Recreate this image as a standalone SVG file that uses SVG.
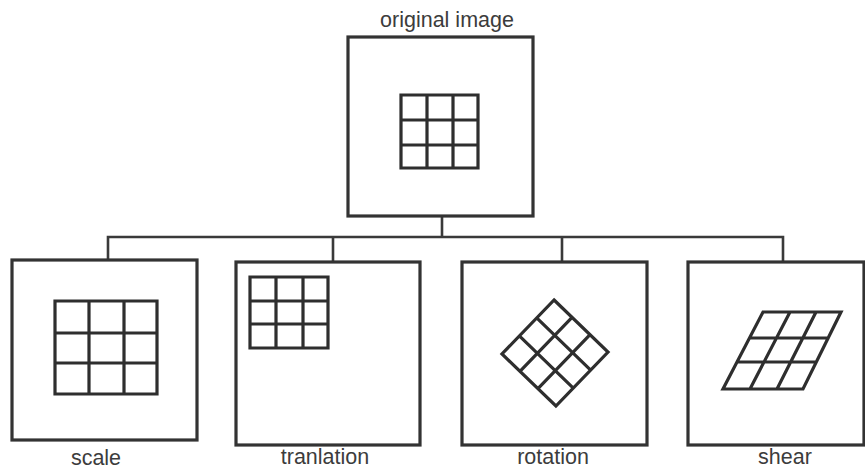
<svg xmlns="http://www.w3.org/2000/svg" width="865" height="471" viewBox="0 0 865 471">
<style>
.box{fill:#fff;stroke:#333;stroke-width:3.2}
.grid{fill:none;stroke:#2e2e2e;stroke-width:3.2;stroke-linejoin:miter}
.conn{fill:none;stroke:#3a3a3a;stroke-width:2.6}
.lbl{font-family:"Liberation Sans",Arial,sans-serif;font-size:21.5px;fill:#3c3c3c;text-anchor:middle}
</style>
<rect width="865" height="471" fill="#fff"/>
<g id="connectors">
<path class="conn" d="M442 216V237M108 260V237H783V262M333 237V262M562 237V262"/>
</g>
<g id="original">
<text class="lbl" x="447" y="27">original image</text>
<rect class="box" x="348" y="37" width="185" height="179"/>
<path class="grid" d="M401 95H478V168H401ZM401 120H478M401 145H478M427 95V168M453 95V168"/>
</g>
<g id="scale">
<rect class="box" x="12" y="260" width="185" height="180"/>
<path class="grid" d="M55 301H157V394H55ZM55 333H157M55 363H157M89 301V394M124 301V394"/>
<text class="lbl" x="96" y="465">scale</text>
</g>
<g id="translation">
<rect class="box" x="236" y="262" width="184" height="183"/>
<path class="grid" d="M250 277H328V348H250ZM250 301H328M250 324H328M276 277V348M303 277V348"/>
<text class="lbl" x="325" y="464">tranlation</text>
</g>
<g id="rotation">
<rect class="box" x="462" y="262" width="185" height="183"/>
<g transform="translate(555 353) rotate(44)">
<path class="grid" d="M-37.5 -37.5H37.5V37.5H-37.5ZM-37.5 -12.5H37.5M-37.5 12.5H37.5M-12.5 -37.5V37.5M12.5 -37.5V37.5"/>
</g>
<text class="lbl" x="553" y="464">rotation</text>
</g>
<g id="shear">
<rect class="box" x="688" y="262" width="176" height="183"/>
<path class="grid" d="M763 312H841L803 389H723ZM750 338H828M736 362H816M790 312L750 389M816 312L777 389"/>
<text class="lbl" x="785" y="464">shear</text>
</g>
</svg>
